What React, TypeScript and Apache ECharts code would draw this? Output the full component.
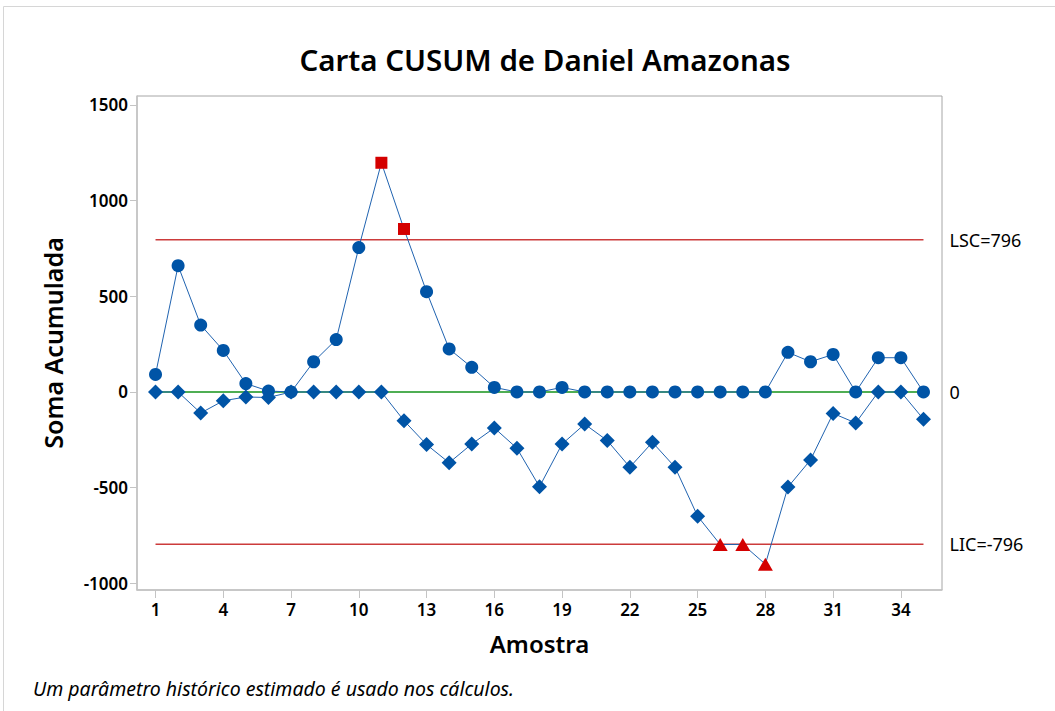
import React, { useEffect, useRef } from "react";
import * as echarts from "echarts";

const samples = [1, 2, 3, 4, 5, 6, 7, 8, 9, 10, 11, 12, 13, 14, 15, 16, 17, 18, 19, 20, 21, 22, 23, 24, 25, 26, 27, 28, 29, 30, 31, 32, 33, 34, 35];
const upperCusum = [92, 660, 350, 217, 44, 5, 0, 158, 274, 755, 1198, 852, 524, 225, 129, 24, 0, 0, 24, 0, 0, 0, 0, 0, 0, 0, 0, 0, 207, 158, 196, 0, 179, 179, 0];
const lowerCusum = [0, 0, -110, -46, -26, -29, 0, 0, 0, 0, 0, -150, -275, -370, -272, -188, -294, -495, -272, -168, -254, -393, -263, -393, -649, -797, -797, -900, -497, -355, -112, -162, 0, 0, -142];
const upperFlagged = [11, 12];
const lowerFlagged = [26, 27, 28];
const ucl = 796;
const lcl = -796;
const centerValue = 0;
const xTicks = [1, 4, 7, 10, 13, 16, 19, 22, 25, 28, 31, 34];
const yTicks = [-1000, -500, 0, 500, 1000, 1500];

const BLUE = "#0054a6";
const LINE_BLUE = "#2063b0";
const RED = "#d40000";
const FONT = "'Noto Sans', 'Open Sans', sans-serif";

export default function App() {
  const ref = useRef<HTMLDivElement>(null);
  useEffect(() => {
    document.body.style.margin = "0";
    const chart = echarts.init(ref.current!, undefined, { renderer: "svg" });
    const first = samples[0];
    const last = samples[samples.length - 1];
    const upperData = samples.map((s, i) =>
      upperFlagged.includes(s)
        ? { value: [s, upperCusum[i]], symbol: "rect", symbolSize: 12, itemStyle: { color: RED } }
        : { value: [s, upperCusum[i]] }
    );
    const lowerData = samples.map((s, i) =>
      lowerFlagged.includes(s)
        ? { value: [s, lowerCusum[i]], symbol: "triangle", symbolSize: [15, 13], itemStyle: { color: RED } }
        : { value: [s, lowerCusum[i]] }
    );
    const refLine = (name: string, value: number, color: string, label: string) => ({
      type: "line",
      name,
      data: [[first, value], [last, value]],
      symbol: "none",
      silent: true,
      lineStyle: { color, width: 1.5 },
      z: 1,
      endLabel: {
        show: true,
        formatter: label,
        distance: 26,
        color: "#000",
        fontSize: 18,
        fontFamily: FONT,
      },
    });
    chart.setOption({
      animation: false,
      backgroundColor: "#fff",
      title: {
        text: "Carta CUSUM de Daniel Amazonas",
        left: 540,
        top: 39,
        textAlign: "center",
        textStyle: { fontSize: 29.5, fontWeight: 600, color: "#000", fontFamily: FONT },
      },
      grid: {
        left: 137,
        right: 113,
        top: 96,
        bottom: 121,
        show: true,
        borderColor: "#a6a6a6",
        borderWidth: 1,
      },
      xAxis: {
        type: "value",
        min: 0.18,
        max: 35.82,
        name: "Amostra",
        nameLocation: "middle",
        nameGap: 41,
        nameTextStyle: { fontSize: 24, fontWeight: 600, color: "#000", fontFamily: FONT },
        splitLine: { show: false },
        axisLine: { show: true, onZero: false, lineStyle: { color: "#c4c4c4", width: 1.5 } },
        axisTick: { show: true, length: 8, customValues: xTicks, lineStyle: { color: "#c4c4c4" } },
        axisLabel: { customValues: xTicks, fontSize: 17, fontWeight: 600, color: "#000", margin: 11, fontFamily: FONT },
      },
      yAxis: {
        type: "value",
        min: -1035,
        max: 1547,
        name: "Soma Acumulada",
        nameLocation: "middle",
        nameGap: 72,
        nameTextStyle: { fontSize: 25, fontWeight: 600, color: "#000", fontFamily: FONT },
        splitLine: { show: false },
        axisLine: { show: true, onZero: false, lineStyle: { color: "#c4c4c4", width: 1.5 } },
        axisTick: { show: true, length: 7, customValues: yTicks, lineStyle: { color: "#c4c4c4" } },
        axisLabel: {
          customValues: yTicks,
          fontSize: 17,
          fontWeight: 600,
          color: "#000",
          margin: 9,
          fontFamily: FONT,
          formatter: (v: number) => String(v),
        },
      },
      series: [
        refLine("LSC", ucl, "#cc3b3b", "LSC=" + ucl),
        refLine("Center", centerValue, "#14931a", String(centerValue)),
        refLine("LIC", lcl, "#cc3b3b", "LIC=" + lcl),
        {
          type: "line",
          name: "Upper",
          data: upperData,
          symbol: "circle",
          symbolSize: 13,
          showAllSymbol: true,
          lineStyle: { color: LINE_BLUE, width: 1 },
          itemStyle: { color: BLUE },
          z: 3,
        },
        {
          type: "line",
          name: "Lower",
          data: lowerData,
          symbol: "diamond",
          symbolSize: 15,
          showAllSymbol: true,
          lineStyle: { color: LINE_BLUE, width: 1 },
          itemStyle: { color: BLUE },
          z: 4,
        },
      ],
      graphic: [
        {
          type: "rect",
          shape: { x: 3.5, y: 6.5, width: 1080, height: 740 },
          style: { fill: "none", stroke: "#d6d6d6", lineWidth: 1 },
          silent: true,
        },
        {
          type: "text",
          left: 33,
          top: 678,
          style: {
            text: "Um parâmetro histórico estimado é usado nos cálculos.",
            fill: "#000",
            font: "italic 19.5px " + FONT,
          },
        },
      ],
    });
    return () => chart.dispose();
  }, []);
  return <div ref={ref} style={{ width: 1055, height: 711 }} />;
}
